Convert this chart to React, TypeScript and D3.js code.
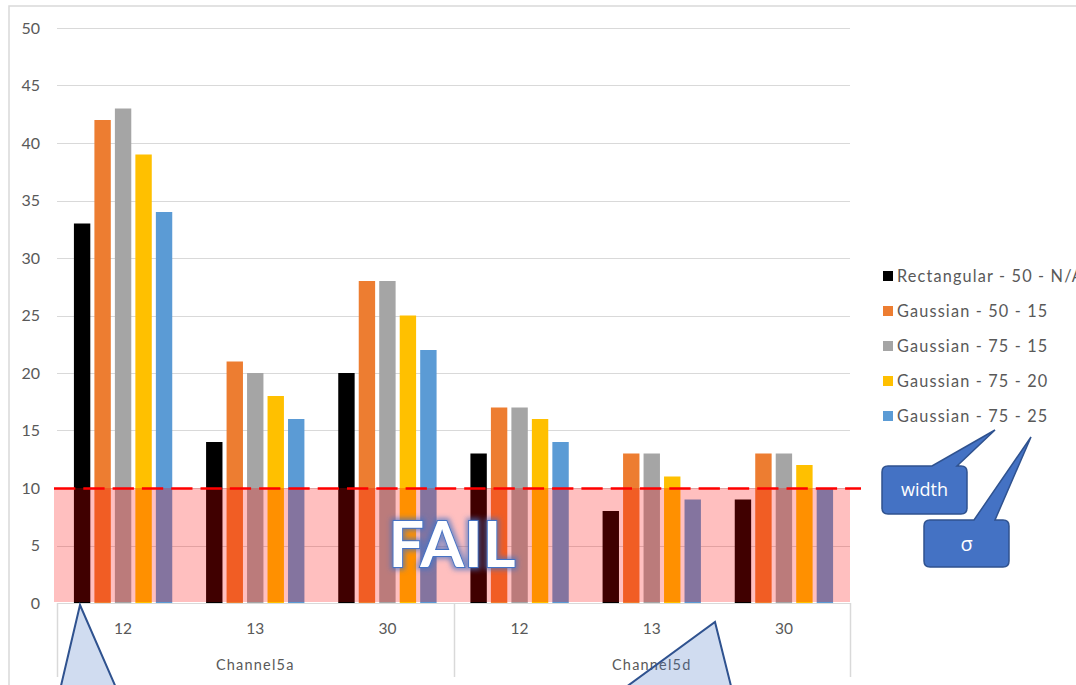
import React from "react";
import * as d3 from "d3";

// Grouped bar chart: score per series for each channel / setting, with a fail band below 10.
const channels = ["Channel5a", "Channel5d"];
const settings = ["12", "13", "30"];
const seriesNames = [
  "Rectangular - 50 - N/A",
  "Gaussian - 50 - 15",
  "Gaussian - 75 - 15",
  "Gaussian - 75 - 20",
  "Gaussian - 75 - 25",
];
const seriesColors = ["#000000", "#ED7D31", "#A5A5A5", "#FFC000", "#5B9BD5"];

// values per group: Channel5a 12, 13, 30 then Channel5d 12, 13, 30
const rectangular50 = [33, 14, 20, 13, 8, 9];
const gaussian5015 = [42, 21, 28, 17, 13, 13];
const gaussian7515 = [43, 20, 28, 17, 13, 13];
const gaussian7520 = [39, 18, 25, 16, 11, 12];
const gaussian7525 = [34, 16, 22, 14, 9, 10];
const seriesValues = [rectangular50, gaussian5015, gaussian7515, gaussian7520, gaussian7525];

const yTicks = [0, 5, 10, 15, 20, 25, 30, 35, 40, 45, 50];
const failThreshold = 10;

const W = 1076;
const H = 685;
const plot = { left: 57, right: 850, top: 28, bottom: 603 };
const labelColor = "#595959";
const font = "Lato, 'Open Sans', sans-serif";

export default function App() {
  const groups = channels.flatMap((c) => settings.map((s) => `${c}|${s}`));

  const x0 = d3
    .scaleBand<string>()
    .domain(groups)
    .range([plot.left, plot.right])
    .paddingInner(0.225)
    .paddingOuter(0.1125);
  const step0 = x0.step();
  const x1 = d3
    .scaleBand<string>()
    .domain(seriesNames)
    .range([0, x0.bandwidth()])
    .paddingInner(0.2)
    .paddingOuter(0.1);
  const y = d3.scaleLinear().domain([0, 50]).range([plot.bottom, plot.top]);

  const groupCenter = (g: string) => (x0(g) as number) + x0.bandwidth() / 2;
  const channelCenter = (ci: number) =>
    plot.left + step0 * settings.length * (ci + 0.5);

  const legendX = 883;
  const legendY0 = 276;
  const legendStep = 35;

  return (
    <svg
      width={W}
      height={H}
      style={{ position: "fixed", left: 0, top: 0, background: "#fff" }}
      fontFamily={font}
    >
      <defs>
        <filter id="failGlow" x="-20%" y="-30%" width="140%" height="160%">
          <feMorphology in="SourceAlpha" operator="dilate" radius="1.5" result="thick" />
          <feGaussianBlur in="thick" stdDeviation="2.5" result="blur" />
          <feFlood floodColor="#4472C4" floodOpacity="0.7" />
          <feComposite in2="blur" operator="in" result="glow" />
          <feMerge>
            <feMergeNode in="glow" />
            <feMergeNode in="SourceGraphic" />
          </feMerge>
        </filter>
      </defs>

      {/* chart frame */}
      <rect x={9} y={6} width={W + 20} height={H + 20} fill="#fff" stroke="#D9D9D9" strokeWidth={1.5} />

      {/* gridlines */}
      {yTicks.map((t) => (
        <line
          key={`g${t}`}
          x1={plot.left}
          x2={plot.right}
          y1={Math.round(y(t)) + 0.5}
          y2={Math.round(y(t)) + 0.5}
          stroke="#D9D9D9"
          strokeWidth={1}
        />
      ))}

      {/* y tick labels */}
      {yTicks.map((t) => (
        <text
          key={`yl${t}`}
          x={40}
          y={y(t)}
          dy="0.35em"
          textAnchor="end"
          fontSize={16}
          fill={labelColor}
        >
          {t}
        </text>
      ))}

      {/* bars */}
      {groups.map((g, gi) => (
        <g key={g} transform={`translate(${x0(g)},0)`}>
          {seriesNames.map((s, si) => {
            const v = seriesValues[si][gi];
            return (
              <rect
                key={s}
                x={x1(s)}
                y={y(v)}
                width={x1.bandwidth()}
                height={y(0) - y(v)}
                fill={seriesColors[si]}
              />
            );
          })}
        </g>
      ))}

      {/* fail band */}
      <rect
        x={54}
        y={y(failThreshold)}
        width={plot.right - 54}
        height={y(0) - y(failThreshold) - 1}
        fill="#FF0000"
        fillOpacity={0.25}
      />
      <line
        x1={54}
        x2={861}
        y1={y(failThreshold) + 0.5}
        y2={y(failThreshold) + 0.5}
        stroke="#FF0000"
        strokeWidth={2.6}
        strokeDasharray="21.3 8"
      />

      {/* category axis */}
      <line x1={plot.left} x2={plot.right} y1={plot.bottom + 0.5} y2={plot.bottom + 0.5} stroke="#D9D9D9" />
      {[0, 1, 2].map((i) => {
        const xx = Math.round(plot.left + i * step0 * settings.length) + 0.5;
        return <line key={`v${i}`} x1={xx} x2={xx} y1={plot.bottom} y2={677} stroke="#D9D9D9" strokeWidth={1.5} />;
      })}
      {groups.map((g) => (
        <text
          key={`xl${g}`}
          x={groupCenter(g)}
          y={634}
          textAnchor="middle"
          fontSize={15.5}
          fill={labelColor}
        >
          {g.split("|")[1]}
        </text>
      ))}
      {channels.map((c, ci) => (
        <text
          key={c}
          x={channelCenter(ci)}
          y={670}
          textAnchor="middle"
          fontSize={14.5}
          letterSpacing={1.2}
          fill={labelColor}
        >
          {c}
        </text>
      ))}

      {/* FAIL label */}
      <text
        x={452}
        y={567}
        textAnchor="middle"
        fontSize={63}
        fontWeight={700}
        fill="#FFFFFF"
        stroke="#4472C4"
        strokeWidth={1.8}
        paintOrder="stroke"
        filter="url(#failGlow)"
        fontFamily="Lato, 'Open Sans', sans-serif"
      >
        FAIL
      </text>

      {/* legend */}
      {seriesNames.map((s, i) => (
        <g key={`lg${s}`} transform={`translate(${legendX},${legendY0 + i * legendStep})`}>
          <rect x={0} y={-5} width={10} height={10} fill={seriesColors[i]} />
          <text x={14} y={0} dy="0.36em" fontSize={16.3} letterSpacing={1.15} fill={labelColor}>
            {s}
          </text>
        </g>
      ))}

      {/* callouts naming the legend fields */}
      <path
        d="M888,466 L932,466 L995,430 L957,466 L961,466 Q967,466 967,472 L967,508 Q967,514 961,514 L888,514 Q882,514 882,508 L882,472 Q882,466 888,466 Z"
        fill="#4472C4"
        stroke="#2F528F"
        strokeWidth={1.5}
      />
      <text x={924.5} y={490} dy="0.36em" textAnchor="middle" fontSize={18} fill="#fff" fontFamily="'Open Sans', sans-serif">
        width
      </text>
      <path
        d="M930,520 L974,520 L1031,437 L995,520 L1003,520 Q1009,520 1009,526 L1009,561 Q1009,567 1003,567 L930,567 Q924,567 924,561 L924,526 Q924,520 930,520 Z"
        fill="#4472C4"
        stroke="#2F528F"
        strokeWidth={1.5}
      />
      <text x={966.5} y={544} dy="0.36em" textAnchor="middle" fontSize={20} fill="#fff" fontFamily="'Open Sans', sans-serif">
        σ
      </text>

      {/* callout pointers entering from below */}
      <path
        d="M60,690 L80,605 L117,690 Z"
        fill="#4472C4"
        fillOpacity={0.25}
        stroke="#2F528F"
        strokeWidth={2}
      />
      <path
        d="M622,690 L715,622 L732,690 Z"
        fill="#4472C4"
        fillOpacity={0.25}
        stroke="#2F528F"
        strokeWidth={2}
      />
    </svg>
  );
}
